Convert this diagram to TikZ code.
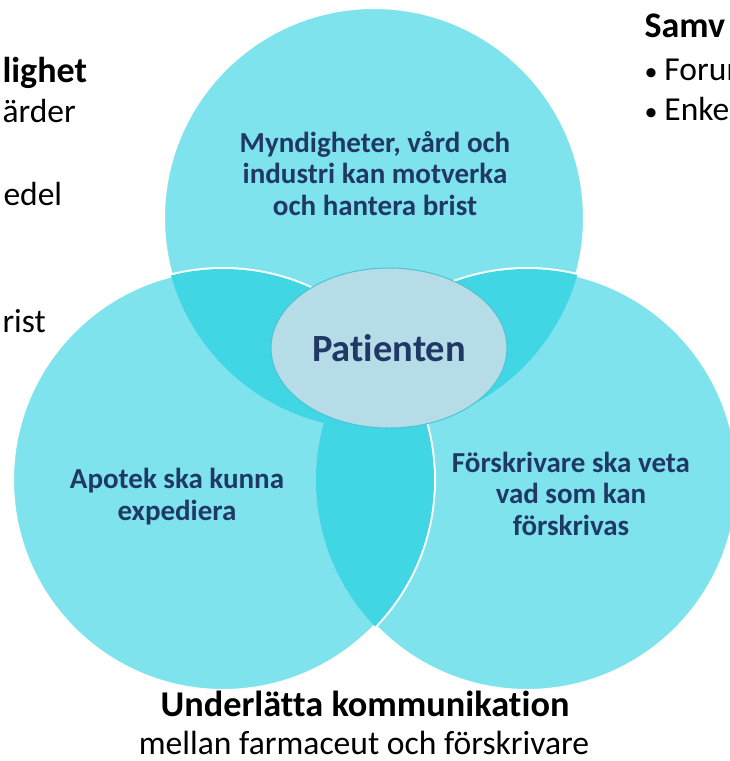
\documentclass[tikz,border=0pt]{standalone}
\usepackage{fontspec}
\setmainfont{Carlito}[Ligatures=NoCommon]
\usetikzlibrary{shapes.geometric}
\definecolor{circfill}{HTML}{7FE3ED}
\definecolor{lensfill}{HTML}{40D6E3}
\definecolor{patfill}{HTML}{B6DDE7}
\definecolor{patline}{HTML}{4FC3D3}
\definecolor{navy}{HTML}{1F3864}
\newcommand{\smallbullet}{{\fontsize{26}{26}\selectfont•}\hspace{7pt}}
\begin{document}
\begin{tikzpicture}[x=1pt,y=-1pt,
    ring/.style={fill=circfill,draw=white,line width=4pt},
    circtext/.style={anchor=base,align=center,text=navy,font=\bfseries\fontsize{29}{31.5}\selectfont},
    headtext/.style={anchor=base west,font=\bfseries\fontsize{36}{40}\selectfont},
    bodytext/.style={anchor=base west,font=\fontsize{33.5}{38}\selectfont}]
    \useasboundingbox (0,0) rectangle (729,761);
    \coordinate (top) at (374,218);
    \coordinate (right) at (527,480);
    \coordinate (left) at (223,480);
	% the three circles
	\draw[ring] (top) circle (211);
	\draw[ring] (right) circle (211);
	\draw[ring] (left) circle (211);
	% overlaps
	\begin{scope}
	    \clip (top) circle (211);
	    \fill[lensfill] (left) circle (211);
	    \fill[lensfill] (right) circle (211);
	\end{scope}
	\begin{scope}
	    \clip (left) circle (211);
	    \fill[lensfill] (right) circle (211);
	\end{scope}
	% centre
	\node[ellipse,fill=patfill,draw=patline,line width=1pt,minimum width=236,minimum height=160,
	    text=navy,font=\bfseries\fontsize{38.5}{40}\selectfont] (patient) at (389,348) {Patienten};
	% base anchor sits on the last line
	\node[circtext] (topgoal) at (375,215) {Myndigheter, vård och\\industri kan motverka\\och hantera brist};
	\node[circtext] (leftgoal) at (177,520) {Apotek ska kunna\\expediera};
	\node[circtext] (rightgoal) at (571,535) {Förskrivare ska veta\\vad som kan\\förskrivas};
	% text round the edges
	\node[headtext] (lhead) at (-1,82) {lighet};
	\node[bodytext] (lone) at (-1,122) {ärder};
	\node[bodytext] (ltwo) at (0,205) {edel};
	\node[bodytext] (lthree) at (-1,332) {rist};
	\node[headtext] (rhead) at (641,37) {Samv};
	\node[bodytext] (rone) at (641,80) {\smallbullet Forum};
	\node[bodytext] (rtwo) at (641,120) {\smallbullet Enkel};
	\node[anchor=base,font=\bfseries\fontsize{36.3}{40}\selectfont] (bhead) at (365,716) {Underlätta kommunikation};
	\node[anchor=base,font=\fontsize{33.6}{38}\selectfont] (bbody) at (364,754) {mellan farmaceut och förskrivare};
\end{tikzpicture}
\end{document}
